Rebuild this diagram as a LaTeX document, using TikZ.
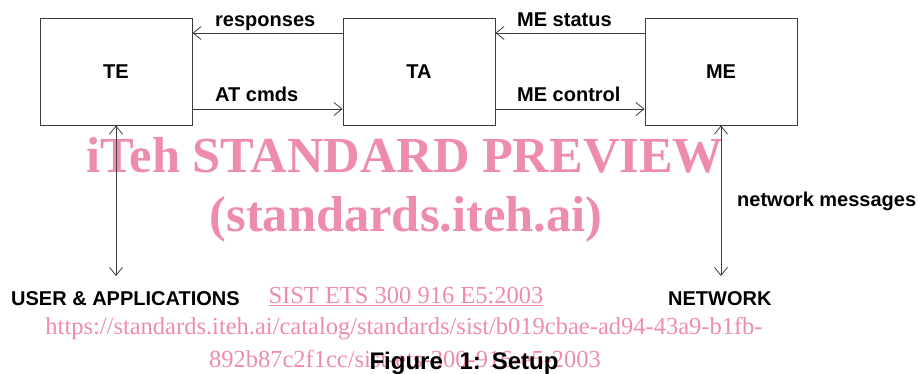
\documentclass[tikz,border=0pt]{standalone}
\usepackage{fontspec}
\setmainfont{Liberation Sans}
\newfontfamily\wmfont{Liberation Serif}
\usetikzlibrary{arrows.meta}
\definecolor{wmpink}{RGB}{238,141,171}
\definecolor{linegray}{RGB}{60,60,60}
\tikzset{
  blk/.style={draw=linegray, line width=0.9pt, minimum width=152pt, minimum height=107pt, inner sep=0pt,
    font=\fontsize{20}{24}\selectfont\bfseries},
  lbl/.style={anchor=base west, inner sep=0pt, font=\fontsize{20}{24}\selectfont\bfseries},
  arr/.style={draw=linegray, line width=0.8pt, -{Straight Barb[length=8pt,width=13pt]}},
  darr/.style={draw=linegray, line width=0.8pt, {Straight Barb[length=8pt,width=13pt]}-{Straight Barb[length=8pt,width=13pt]}},
  wm/.style={anchor=base, inner sep=0pt, text=wmpink}
}
\begin{document}
\begin{tikzpicture}[x=1pt,y=-1pt]
\useasboundingbox (0,0) rectangle (918,374);
% watermark
\node[wm, font=\wmfont\bfseries\fontsize{50.5}{60}\selectfont] (wm1) at (405,173) {iTeh STANDARD PREVIEW};
\node[wm, font=\wmfont\bfseries\fontsize{50.5}{60}\selectfont] (wm2) at (406,232) {(standards.iteh.ai)};
\node[wm, font=\wmfont\fontsize{24.5}{28}\selectfont] (wm3) at (406,303) {\underline{SIST ETS 300 916 E5:2003}};
\node[wm, font=\wmfont\fontsize{24.5}{28}\selectfont] (wm4) at (404,334) {https://standards.iteh.ai/catalog/standards/sist/b019cbae-ad94-43a9-b1fb-};
\node[wm, font=\wmfont\fontsize{24.5}{28}\selectfont] (wm5) at (405,367) {892b87c2f1cc/sist-ets-300-916-e5-2003};
% boxes
\node[blk] (TE) at (116,71.5) {TE};
\node[blk] (TA) at (419,71.5) {TA};
\node[blk] (ME) at (721,71.5) {ME};
% horizontal connectors
\draw[arr] ([yshift=38.5pt]TA.west) -- ([yshift=38.5pt]TE.east);
\draw[arr] ([yshift=-37.5pt]TE.east) -- ([yshift=-37.5pt]TA.west);
\draw[arr] ([yshift=38.5pt]ME.west) -- ([yshift=38.5pt]TA.east);
\draw[arr] ([yshift=-37.5pt]TA.east) -- ([yshift=-37.5pt]ME.west);
\node[lbl] (l1) at (215,27) {responses};
\node[lbl] (l2) at (215,102) {AT cmds};
\node[lbl] (l3) at (517,27) {ME status};
\node[lbl] (l4) at (517,102) {ME control};
% vertical connectors
\coordinate (ua) at (116,276);
\coordinate (na) at (721,276);
\draw[darr] (TE.south) -- (ua);
\draw[darr] (ME.south) -- (na);
\node[lbl] (l5) at (737,207) {network messages};
\node[lbl] (l6) at (11,305) {USER \& APPLICATIONS};
\node[lbl] (l7) at (668,305) {NETWORK};
% caption
\node[anchor=base, inner sep=0pt, font=\fontsize{24}{28}\selectfont\bfseries] (cap) at (464,369) {Figure\hspace{10pt} 1:\hspace{2pt} Setup};
\end{tikzpicture}
\end{document}
